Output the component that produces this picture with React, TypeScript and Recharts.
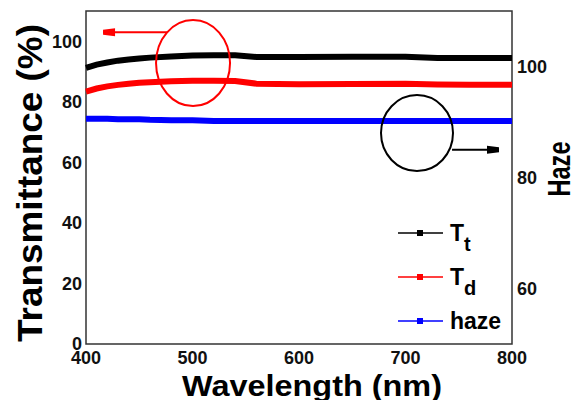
import React from "react";
import {
  ComposedChart,
  Line,
  XAxis,
  YAxis,
  ReferenceArea,
  ReferenceDot,
  ReferenceLine,
} from "recharts";

const wavelength = [400, 410, 420, 430, 440, 450, 460, 480, 500, 520, 540, 560, 600, 650, 700, 730, 760, 800];
const tt = [91.2, 92.3, 93.0, 93.6, 94.0, 94.3, 94.6, 95.0, 95.3, 95.4, 95.4, 94.8, 94.8, 94.9, 94.9, 94.5, 94.5, 94.5];
const td = [83.4, 84.4, 85.1, 85.6, 86.0, 86.3, 86.5, 86.8, 87.0, 87.0, 86.9, 86.0, 85.8, 85.9, 86.0, 85.7, 85.6, 85.6];
const haze = [90.6, 90.6, 90.6, 90.5, 90.5, 90.5, 90.4, 90.3, 90.3, 90.2, 90.2, 90.2, 90.2, 90.2, 90.2, 90.2, 90.2, 90.2];

const xTicks = [400, 500, 600, 700, 800];
const leftTicks = [0, 20, 40, 60, 80, 100];
const rightTicks = [60, 80, 100];

const series = [
  { key: "tt", main: "T", sub: "t", color: "#000000", axis: "left" },
  { key: "td", main: "T", sub: "d", color: "#ff0000", axis: "left" },
  { key: "haze", main: "haze", sub: "", color: "#0000ff", axis: "right" },
];

const data = wavelength.map((w, i) => ({ w, tt: tt[i], td: td[i], haze: haze[i] }));

const FONT = "'Liberation Sans', Arial, sans-serif";
const tickStyle = { fontFamily: FONT, fontSize: 18, fontWeight: 700, fill: "#111" };

// legend drawn over the plot, bottom-right corner
const LegendBox = () => (
  <svg width={130} height={130} style={{ position: "absolute", left: 398, top: 215 }}>
    {series.map((s, i) => {
      const y = 18 + i * 44;
      return (
        <g key={s.key}>
          <line x1={0} x2={45} y1={y} y2={y} stroke={s.color} strokeWidth={1.5} />
          <rect x={19} y={y - 3} width={6} height={6} fill={s.color} />
          <text x={52} y={y + 8} fontFamily={FONT} fontWeight={700} fontSize={23} fill="#000">
            {s.main}
            {s.sub && (
              <tspan dy={10} fontSize={20}>
                {s.sub}
              </tspan>
            )}
          </text>
        </g>
      );
    })}
  </svg>
);

const arrow = (color: string, dir: "left" | "right") => (p: any) => {
  const { x1, x2, y1 } = p;
  const tip = dir === "left" ? Math.min(x1, x2) : Math.max(x1, x2);
  const back = dir === "left" ? tip + 12 : tip - 12;
  return (
    <g>
      <line x1={x1} x2={x2} y1={y1} y2={y1} stroke={color} strokeWidth={2} />
      <polygon points={`${tip},${y1 - 2.5} ${back},${y1 - 4} ${back},${y1 + 4} ${tip},${y1 + 2.5}`} fill={color} />
    </g>
  );
};

const ellipse = (color: string, rx: number, ry: number) => (p: any) => (
  <ellipse cx={p.cx} cy={p.cy} rx={rx} ry={ry} fill="none" stroke={color} strokeWidth={2} />
);

export default function App() {
  return (
    <div style={{ margin: -8, width: 579, height: 408, background: "#fff", position: "relative" }}>
      <ComposedChart width={579} height={408} data={data} margin={{ top: 11, right: 0, bottom: 0, left: 0 }}>
        <XAxis
          dataKey="w"
          type="number"
          domain={[400, 800]}
          ticks={xTicks}
          height={64}
          axisLine={false}
          tickLine={false}
          tickSize={0}
          tickMargin={7}
          tick={tickStyle}
          label={{
            content: () => (
              <text x={312} y={396} textAnchor="middle" fontFamily={FONT} fontWeight={700} fontSize={30} textLength={260} lengthAdjust="spacingAndGlyphs" fill="#000">
                Wavelength (nm)
              </text>
            ),
          }}
        />
        <YAxis
          yAxisId="left"
          domain={[0, 110]}
          ticks={leftTicks}
          width={86}
          axisLine={false}
          tickLine={false}
          tickSize={0}
          tickMargin={4}
          tick={tickStyle}
          label={{
            content: () => (
              <text x={42} y={183} transform="rotate(-90 42 183)" textAnchor="middle" fontFamily={FONT} fontWeight={700} fontSize={35} textLength={318} lengthAdjust="spacingAndGlyphs" fill="#000">
                Transmittance (%)
              </text>
            ),
          }}
        />
        <YAxis
          yAxisId="right"
          orientation="right"
          domain={[50, 110]}
          ticks={rightTicks}
          width={67}
          axisLine={false}
          tickLine={false}
          tickSize={0}
          tickMargin={5}
          tick={tickStyle}
          label={{
            content: () => (
              <text x={570} y={169} transform="rotate(-90 570 169)" textAnchor="middle" fontFamily={FONT} fontWeight={700} fontSize={32} textLength={55} lengthAdjust="spacingAndGlyphs" fill="#000">
                Haze
              </text>
            ),
          }}
        />
        <ReferenceArea yAxisId="left" x1={400} x2={800} y1={0} y2={110} fill="none" stroke="#333" strokeWidth={1.5} ifOverflow="visible" />
        {series.map((s) => (
          <Line
            key={s.key}
            yAxisId={s.axis}
            dataKey={s.key}
            stroke={s.color}
            strokeWidth={6}
            dot={false}
            isAnimationActive={false}
          />
        ))}
        <ReferenceDot yAxisId="left" x={500.5} y={92.8} shape={ellipse("#ff0000", 37, 43)} ifOverflow="visible" />
        <ReferenceDot yAxisId="right" x={710.8} y={88} shape={ellipse("#000", 36, 38)} ifOverflow="visible" />
        <ReferenceLine yAxisId="left" segment={[{ x: 416, y: 103 }, { x: 476, y: 103 }]} shape={arrow("#ff0000", "left")} ifOverflow="visible" />
        <ReferenceLine yAxisId="right" segment={[{ x: 743.7, y: 85 }, { x: 787.8, y: 85 }]} shape={arrow("#000", "right")} ifOverflow="visible" />
      </ComposedChart>
      <LegendBox />
    </div>
  );
}
